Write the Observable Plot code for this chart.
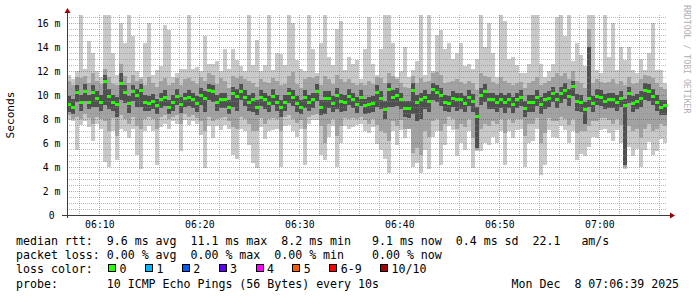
<!DOCTYPE html>
<html><head><meta charset="utf-8">
<script src="https://cdn.jsdelivr.net/npm/d3@7"></script>
<script src="https://cdn.jsdelivr.net/npm/@observablehq/plot@0.6"></script>
<style>
body{margin:0;background:#fff;}
#chart{position:relative;width:697px;height:297px;overflow:hidden;background:#fff;font-family:"DejaVu Sans Mono",monospace;}
#chart svg{position:absolute;left:0;top:0;}
#chart svg text{white-space:pre;}
.leg{position:absolute;left:16px;font-size:11.6px;line-height:14px;white-space:pre;color:#000;}
.box{display:inline-block;width:6px;height:6px;border:1px solid #000;vertical-align:1px;margin-left:1.4px;margin-right:3.4px;}
.lab{margin-right:17.1px;}
</style></head>
<body><div id="chart"></div>
<script>
// ---- data (milliseconds), one step = 24 s, starting 06:06:46 ----
const startTime = "2025-12-08T06:06:46Z";
const stepSeconds = 24;
const median = [
9.2,9.0,10.2,9.4,10.3,9.4,10.2,9.7,9.4,11.1,9.9,9.4,9.2,11.0,10.2,9.3,10.3,10.0,10.4,9.4,9.3,9.5,9.1,9.6,9.8,9.0,9.4,9.9,9.2,9.7,
9.8,9.6,9.3,10.0,9.7,10.4,10.3,9.4,9.6,9.6,9.0,10.1,9.9,10.3,9.8,9.4,9.6,9.0,9.8,9.6,9.3,9.9,9.4,9.0,9.4,10.1,9.8,9.3,9.0,9.8,
9.4,9.6,10.3,9.0,9.7,9.7,9.3,10.0,9.5,9.4,9.9,9.6,9.2,9.8,9.1,9.2,9.3,10.2,9.7,8.8,10.5,9.8,10.0,9.6,8.9,8.9,10.4,9.4,9.6,9.8,
9.5,10.5,10.2,10.0,9.4,9.3,9.7,9.6,9.6,9.3,9.8,9.5,8.2,10.0,10.3,9.6,9.6,9.4,9.6,9.4,9.6,9.2,9.6,9.8,8.9,9.4,9.4,9.8,9.2,9.6,
9.7,10.1,9.6,10.1,10.4,9.9,10.7,9.5,9.4,8.8,9.7,9.3,9.9,9.8,9.5,9.6,9.6,9.4,9.7,9.1,10.1,9.3,9.5,9.7,10.4,10.3,9.9,9.4,9.0,9.1];
const pingMax = [
11.7,11.3,12.0,17,12.2,14.5,13.5,12.0,11.5,17,17,13.5,11.7,16.0,14.3,17,14.9,12.0,11.5,14.3,16.0,11.7,12.1,12.4,15.8,15.4,11.5,11.8,12.2,12.2,
17,12.2,12.3,12.0,14.9,12.6,12.6,12.8,12.0,13.8,12.2,13.8,12.9,12.4,12.0,17,12.5,14.6,12.0,12.5,17,12.1,13.5,13.4,12.5,17,16.0,12.9,12.2,12.0,
17,13.8,11.8,14.3,17,13.2,12.5,15.5,16.2,12.1,13.2,12.6,12.9,11.3,13.8,16.5,12.6,11.7,13.8,17,17,14.3,11.5,12.0,14.0,11.5,12.1,12.8,17,11.7,
17,12.0,15.0,15.4,13.8,14.3,13.0,13.5,14.3,12.4,12.6,12.2,13.0,17,14.0,16.0,13.5,11.5,17,16.2,13.0,13.2,12.5,11.8,11.8,12.6,17,17,12.6,11.5,
12.0,12.6,16.5,17,14.9,17,12.8,14.3,13.3,12.4,17,17,12.1,11.8,17,13.2,16.0,12.1,14.0,12.9,14.0,12.1,11.8,13.0,12.1,13.5,16.0,12.1,12.1,11.0];
const pingMin = [
7.9,7.8,5.4,7.5,7.8,7.3,6.2,7.6,7.2,4.4,4.0,7.0,4.6,7.2,7.0,6.4,7.2,5.0,3.8,7.0,7.4,7.0,4.2,7.3,7.6,7.2,7.8,7.6,5.3,7.9,
7.5,7.8,7.6,6.7,3.9,7.4,6.4,7.4,7.1,7.5,7.2,5.0,4.7,7.2,7.0,5.8,4.3,3.9,7.3,6.3,7.0,7.1,7.2,4.0,7.4,7.5,7.0,6.5,7.2,4.2,
7.6,7.9,7.9,5.0,4.6,6.5,7.4,4.0,6.0,7.4,7.2,7.3,7.5,7.6,7.0,6.8,7.3,5.9,5.4,4.7,3.5,7.0,5.8,7.1,6.4,7.2,4.0,4.3,3.5,5.4,
3.8,6.5,7.0,4.2,5.8,7.4,7.1,4.9,6.0,5.4,7.0,3.9,5.3,5.3,6.0,5.8,6.5,6.0,7.0,4.2,7.0,6.4,7.1,7.2,4.0,6.0,6.2,7.2,3.3,4.2,
7.1,6.5,6.4,7.4,7.1,6.0,7.0,4.6,5.1,4.9,5.7,6.5,6.4,7.1,7.2,6.8,6.2,7.1,6.0,3.8,5.7,4.9,5.5,4.0,5.4,6.1,5.0,5.3,6.3,6.0];
const outerHigh = [
11.2,10.8,11.5,11.4,11.6,11.0,11.8,11.2,10.9,12.2,11.5,10.9,10.8,12.6,11.6,11.0,11.7,11.2,11.3,10.8,11.5,11.0,10.7,11.2,11.4,10.8,11.0,11.4,10.8,11.3,
11.4,11.2,10.9,11.5,11.2,11.8,11.7,10.9,11.4,11.2,10.6,11.6,11.4,11.6,11.3,11.2,11.0,10.7,11.3,11.1,11.0,11.4,11.2,10.8,10.9,11.6,11.9,10.9,10.6,11.3,
11.5,11.4,11.6,10.8,11.6,11.3,10.9,11.7,11.3,11.1,11.3,11.0,10.8,11.0,10.8,11.2,10.9,11.5,11.4,11.0,11.8,11.6,11.3,11.0,10.7,10.6,11.6,11.0,11.4,11.1,
11.2,11.8,11.9,11.7,11.0,11.1,11.2,11.3,11.1,10.9,11.2,11.0,10.4,11.8,11.6,11.5,11.1,10.9,11.5,11.2,11.0,10.8,11.0,11.1,10.6,11.0,11.2,11.5,10.8,11.0,
11.2,11.5,11.8,11.6,11.8,11.3,12.0,11.2,11.0,10.6,15.5,11.0,11.3,11.1,11.0,11.1,11.3,10.9,11.2,10.8,11.5,10.9,11.0,11.3,11.7,11.6,11.4,11.0,10.7,10.5];
const outerLow = [
8.3,8.0,8.2,8.0,8.4,8.1,7.6,8.2,8.0,7.8,7.0,8.1,6.6,8.3,8.0,7.6,8.2,7.4,7.2,8.0,8.2,8.0,7.2,8.2,8.3,8.0,8.2,8.3,7.6,8.4,
8.2,8.3,8.1,7.8,7.0,8.2,7.8,8.0,8.1,8.2,7.8,7.3,7.2,8.2,8.0,7.6,7.0,7.0,8.1,7.6,8.0,8.1,8.0,7.0,8.2,8.3,8.0,7.7,7.9,7.2,
8.2,8.3,8.4,7.4,6.0,7.6,8.0,6.6,7.4,8.1,8.0,8.1,8.0,8.2,7.9,7.6,8.0,7.5,7.0,6.8,6.2,7.8,7.4,7.9,7.2,7.2,5.2,5.6,5.0,7.0,
6.5,7.8,8.0,7.0,7.6,8.2,8.0,7.2,7.6,7.3,8.0,6.4,5.4,7.2,7.6,7.4,7.8,7.6,8.0,6.8,8.0,7.7,8.0,8.0,6.6,7.6,7.6,8.1,6.0,6.8,
8.1,7.8,7.8,8.2,8.0,7.5,8.0,6.8,7.0,7.0,7.4,7.8,7.8,8.1,8.1,7.9,7.6,8.0,7.5,4.0,7.4,7.0,7.2,6.4,7.2,7.6,7.0,7.2,7.6,7.4];
const innerHigh = [
9.9,9.7,10.8,10.0,10.9,10.0,10.8,10.3,10.0,11.7,10.5,10.0,9.8,11.8,10.8,9.9,10.8,10.5,10.9,10.0,9.9,10.1,9.7,10.2,10.4,9.6,10.0,10.5,9.8,10.2,
10.4,10.2,9.9,10.6,10.3,10.9,10.8,10.0,10.2,10.2,9.6,10.7,10.5,10.9,10.4,10.0,10.2,9.6,10.4,10.2,9.9,10.5,10.0,9.6,10.0,10.6,10.4,9.9,9.6,10.4,
10.0,10.2,10.9,9.6,10.3,10.3,9.9,10.6,10.1,10.0,10.5,10.2,9.8,10.4,9.7,9.8,9.9,10.8,10.3,9.5,11.0,10.4,10.6,10.2,9.5,9.5,11.0,10.0,10.2,10.4,
10.1,11.0,10.8,10.6,10.0,9.9,10.3,10.2,10.2,9.9,10.4,10.1,9.0,10.6,10.9,10.2,10.2,10.0,10.2,10.0,10.2,9.8,10.2,10.4,9.5,10.0,10.0,10.4,9.8,10.2,
10.3,10.7,10.2,10.7,11.0,10.5,11.2,10.1,10.0,9.4,14.0,9.9,10.5,10.4,10.1,10.2,10.2,10.0,10.3,9.7,10.7,9.9,10.1,10.3,11.0,10.9,10.5,10.0,9.6,9.6];
const innerLow = [
8.6,8.4,9.4,8.7,9.5,8.8,9.0,9.0,8.7,9.2,8.8,8.7,8.2,9.6,9.3,8.5,9.5,9.0,9.0,8.7,8.7,8.8,8.4,8.9,9.1,8.4,8.7,9.2,8.5,9.0,
9.1,8.9,8.6,9.2,8.6,9.6,9.4,8.7,8.9,8.9,8.4,9.0,8.7,9.6,9.1,8.7,8.6,8.3,9.1,8.8,8.6,9.2,8.7,8.2,8.7,9.3,9.1,8.6,8.4,8.9,
8.7,8.9,9.5,8.3,8.4,8.9,8.6,8.8,8.6,8.7,9.2,8.9,8.5,9.1,8.4,8.5,8.6,9.0,8.8,8.0,9.0,9.0,9.1,8.8,8.2,8.1,8.4,7.8,8.0,8.8,
8.6,9.6,9.4,9.1,8.7,8.6,9.0,8.7,8.8,8.6,9.1,8.6,5.6,9.2,9.4,8.8,8.8,8.6,8.9,8.5,8.9,8.5,8.9,9.1,8.2,8.6,8.6,9.1,8.4,8.8,
9.0,9.4,8.9,9.3,9.7,9.1,9.9,8.7,8.6,7.6,9.0,8.6,9.2,9.1,8.8,8.9,8.9,8.7,9.0,4.2,9.3,8.6,8.8,9.0,9.6,9.5,9.2,8.7,8.3,8.3];

const yTicks = [0, 2, 4, 6, 8, 10, 12, 14, 16];
const yTickLabels = ["0 ", "2 m", "4 m", "6 m", "8 m", "10 m", "12 m", "14 m", "16 m"];
const xTickLabels = ["06:10", "06:20", "06:30", "06:40", "06:50", "07:00"];
const lossLabels = ["0", "1", "2", "3", "4", "5", "6-9", "10/10"];
const lossColors = ["#26ff00", "#00b8ff", "#0059ff", "#5e00ff", "#ff00ff", "#ff5e00", "#ff0000", "#a10000"];
const legendLines = [
  "median rtt:  9.6 ms avg  11.1 ms max  8.2 ms min   9.1 ms now  0.4 ms sd  22.1   am/s",
  "packet loss: 0.00 % avg  0.00 % max  0.00 % min    0.00 % now",
  "loss color:  ",
  "probe:       10 ICMP Echo Pings (56 Bytes) every 10s                   Mon Dec  8 07:06:39 2025"
];

// ---- build ----
const t0 = new Date(startTime).getTime();
const rows = median.map((m, i) => ({
  x1: new Date(t0 + i * stepSeconds * 1000),
  x2: new Date(t0 + (i + 1) * stepSeconds * 1000),
  med: m, min: pingMin[i], max: pingMax[i],
  oLo: outerLow[i], oHi: outerHigh[i], iLo: innerLow[i], iHi: innerHigh[i]
}));
const tEnd = new Date(t0 + 3600 * 1000);
const dayStr = "2025-12-08T";
const majorX = xTickLabels.map(s => new Date(dayStr + s + ":00Z"));
const minorX = [];
for (let m = 8; m <= 66; m += 2) {
  const d = new Date(Date.UTC(2025, 11, 8, 6, m, 0));
  if (m % 10 !== 0) minorX.push(d);
}
const minorY = [];
for (let v = 0.5; v < 16.7; v += 0.5) if (v % 2 !== 0) minorY.push(v);

const fmtLabel = new Map(yTicks.map((v, i) => [v, yTickLabels[i]]));

const svgChart = Plot.plot({
  width: 697, height: 232,
  marginTop: 15, marginBottom: 17, marginLeft: 67, marginRight: 30,
  style: {fontFamily: '"DejaVu Sans Mono", monospace', fontSize: "9.8px", background: "transparent", color: "#000"},
  x: {type: "utc", domain: [new Date(t0), tEnd]},
  y: {domain: [0, 200 / 12]},
  marks: [
    Plot.rect(rows, {x1: "x1", x2: "x2", y1: "min", y2: "max", fill: "#c9c9c9", clip: true, shapeRendering: "crispEdges"}),
    Plot.rect(rows, {x1: "x1", x2: "x2", y1: "oLo", y2: "oHi", fill: "#a2a2a2", clip: true, shapeRendering: "crispEdges"}),
    Plot.rect(rows, {x1: "x1", x2: "x2", y1: "iLo", y2: "iHi", fill: "#505050", clip: true, shapeRendering: "crispEdges"}),
    Plot.gridY({ticks: minorY, stroke: "#8c8c8c", strokeOpacity: 0.6, strokeDasharray: "1,1", shapeRendering: "crispEdges"}),
    Plot.gridX({ticks: minorX, stroke: "#8c8c8c", strokeOpacity: 0.6, strokeDasharray: "1,1", shapeRendering: "crispEdges"}),
    Plot.gridY({ticks: yTicks.filter(v => v > 0), stroke: "#c21e1e", strokeOpacity: 0.45, strokeDasharray: "1,1", shapeRendering: "crispEdges"}),
    Plot.gridX({ticks: majorX, stroke: "#c21e1e", strokeOpacity: 0.45, strokeDasharray: "1,1", shapeRendering: "crispEdges"}),
    Plot.rect(rows, {x1: "x1", x2: "x2", y1: "med", y2: "med", insetTop: -1.5, insetBottom: -1.5, insetRight: 0.5, fill: "#26ff00", shapeRendering: "crispEdges"}),
    Plot.axisY({ticks: yTicks, tickFormat: v => fmtLabel.get(v), tickSize: 0, tickPadding: 7, label: null}),
    Plot.axisX({ticks: majorX, tickFormat: d3.utcFormat("%H:%M"), tickSize: 0, tickPadding: 6, label: null})
  ]
});

const root = document.getElementById("chart");
root.appendChild(svgChart);

// axis lines, arrows and side texts placed from the scales
const sx = svgChart.scale("x"), sy = svgChart.scale("y");
const xl = sx.range[0], xr = sx.range[1];
const yb = sy.range[0], yt = sy.range[1];
const svg = d3.select(svgChart);
svg.append("line").attr("x1", xl - 5).attr("x2", xr + 3).attr("y1", yb + 0.5).attr("y2", yb + 0.5)
  .attr("stroke", "#3c3c3c").attr("stroke-width", 1);
svg.append("line").attr("x1", xl + 0.5).attr("x2", xl + 0.5).attr("y1", yb + 3).attr("y2", yt - 3)
  .attr("stroke", "#3c3c3c").attr("stroke-width", 1);
svg.append("path").attr("d", `M${xl + 0.5},${yt - 7} L${xl - 2.5},${yt - 2} L${xl + 3.5},${yt - 2} Z`).attr("fill", "#9b0000");
svg.append("path").attr("d", `M${xr + 8},${yb + 0.5} L${xr + 3},${yb - 2.5} L${xr + 3},${yb + 3.5} Z`).attr("fill", "#9b0000");
svg.append("text").text("Seconds").attr("transform", `translate(10,${(yb + yt) / 2}) rotate(-90)`)
  .attr("text-anchor", "middle").attr("dominant-baseline", "central")
  .attr("font-size", "11.2px").attr("fill", "#000");
svg.append("text").text("RRDTOOL / TOBI OETIKER").attr("transform", `translate(687,5) rotate(90)`)
  .attr("text-anchor", "start").attr("dominant-baseline", "central")
  .attr("font-size", "8.2px").attr("fill", "#b0b0b0");

// legend below the svg
const tops = [234.2, 248.2, 262.2, 276.5];
legendLines.forEach((txt, i) => {
  const div = document.createElement("div");
  div.className = "leg";
  div.style.top = tops[i] + "px";
  div.textContent = txt;
  if (i === 2) {
    lossLabels.forEach((lab, j) => {
      const b = document.createElement("span");
      b.className = "box"; b.style.background = lossColors[j];
      const l = document.createElement("span");
      l.className = "lab"; l.textContent = lab;
      div.appendChild(b); div.appendChild(l);
    });
  }
  root.appendChild(div);
});
</script>
</body></html>
